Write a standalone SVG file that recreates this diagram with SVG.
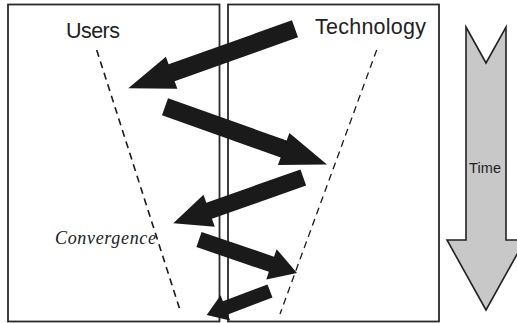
<svg xmlns="http://www.w3.org/2000/svg" width="517" height="323" viewBox="0 0 517 323">
<style>
.box{fill:none;stroke:#2a2a2a;stroke-width:1.8}
.dash{fill:none;stroke:#1a1a1a;stroke-dasharray:7 5}
.arr{fill:#1a1a1a;stroke:none}
.lbl{font-family:"Liberation Sans",Arial,sans-serif;fill:#222}
.conv{font-family:"Liberation Serif","Times New Roman",serif;font-style:italic;fill:#222}
</style>
<rect width="517" height="323" fill="#fff"/>
<g id="users">
<rect class="box" x="8" y="4.5" width="211.5" height="317"/>
<text class="lbl" x="66" y="38" font-size="21.5" textLength="54">Users</text>
</g>
<g id="technology">
<rect class="box" x="228" y="4.5" width="211" height="317"/>
<text class="lbl" x="315" y="34" font-size="21.5" textLength="111">Technology</text>
</g>
<g id="convergence-lines">
<line class="dash" x1="96.7" y1="50" x2="180" y2="310" stroke-width="1.6"/>
<line class="dash" x1="376.7" y1="50" x2="280" y2="314" stroke-width="1.3"/>
<text class="conv" x="55" y="244" font-size="18" textLength="101">Convergence</text>
</g>
<g id="time">
<polygon points="466,27 486,63 506,27 506,240 525,240 486,310 447,240 466,240" fill="#c8c8c8" stroke="#222" stroke-width="1.6"/>
<text class="lbl" x="469" y="172.5" font-size="14.5" textLength="32">Time</text>
</g>
<g id="connectors">
<polygon class="arr" points="298.03,37.28 174.65,81.31 177.34,88.84 128.3,88.3 165.90,56.82 168.59,64.35 291.97,20.32"/>
<polygon class="arr" points="168.02,98.22 286.69,140.56 289.38,133.03 327,164.5 277.96,165.05 280.65,157.52 161.98,115.18"/>
<polygon class="arr" points="306.12,185.52 211.96,218.69 214.79,226.70 173.3,223.3 203.49,194.64 206.32,202.65 300.48,169.48"/>
<polygon class="arr" points="201.59,231.93 274.04,256.70 276.63,249.13 297,273 266.27,279.41 268.86,271.84 196.41,247.07"/>
<polygon class="arr" points="272.48,297.55 227.88,314.46 230.19,320.53 206.7,315 220.61,295.29 222.92,301.36 267.52,284.45"/>
</g>
</svg>
